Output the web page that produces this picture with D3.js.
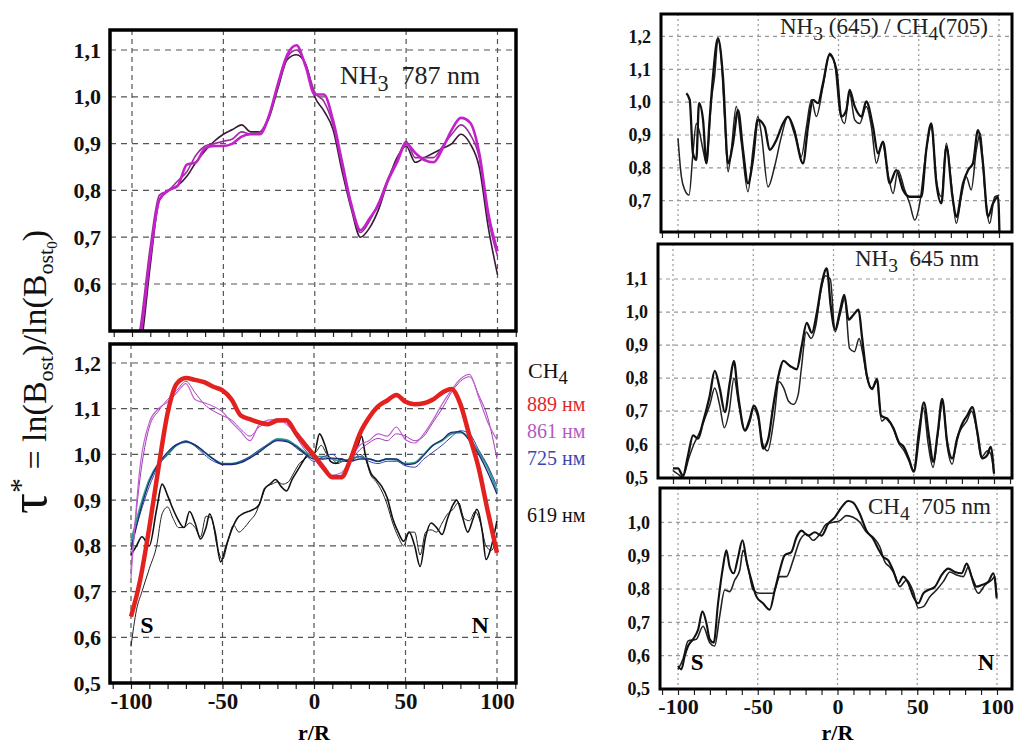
<!DOCTYPE html>
<html>
<head>
<meta charset="utf-8">
<script src="https://cdn.jsdelivr.net/npm/d3@7"></script>
<style>
  body { margin: 0; background: #fff; }
  svg { display: block; }
  text { font-family: "Liberation Serif", "Times New Roman", serif; }
</style>
</head>
<body>
<svg id="chart" width="1014" height="744"></svg>
<script>
// ---- data ----
// left column, every 5 units of r/R
const rLeft = [-100,-95,-90,-85,-80,-75,-70,-65,-60,-55,-50,-45,-40,-35,-30,-25,-20,-15,-10,-5,0,5,10,15,20,25,30,35,40,45,50,55,60,65,70,75,80,85,90,95,100];

// NH3 787 nm, three profiles
const nh3_787_a = [0.40,0.50,0.66,0.78,0.80,0.81,0.855,0.86,0.89,0.895,0.895,0.90,0.915,0.92,0.92,0.96,1.03,1.09,1.11,1.065,1.005,1.005,0.95,0.86,0.77,0.715,0.74,0.77,0.82,0.86,0.90,0.88,0.865,0.86,0.89,0.93,0.955,0.945,0.88,0.75,0.67];
const nh3_787_b = [0.40,0.52,0.68,0.79,0.80,0.82,0.84,0.875,0.895,0.90,0.905,0.91,0.925,0.92,0.925,0.96,1.025,1.085,1.10,1.07,1.01,0.99,0.94,0.85,0.765,0.71,0.735,0.775,0.825,0.865,0.905,0.87,0.87,0.87,0.895,0.92,0.94,0.92,0.87,0.74,0.66];
const nh3_787_c = [0.40,0.47,0.64,0.78,0.80,0.81,0.83,0.86,0.885,0.905,0.92,0.93,0.94,0.925,0.925,0.955,1.02,1.08,1.09,1.07,1.00,0.97,0.93,0.84,0.76,0.70,0.72,0.76,0.82,0.87,0.895,0.86,0.87,0.88,0.89,0.90,0.92,0.90,0.85,0.72,0.62];

// CH4 bands
const ch4_889 = [0.645,0.725,0.84,0.97,1.09,1.155,1.167,1.163,1.158,1.148,1.14,1.12,1.085,1.077,1.07,1.066,1.074,1.075,1.047,1.022,0.998,0.972,0.95,0.95,0.99,1.045,1.08,1.105,1.118,1.13,1.115,1.11,1.112,1.12,1.135,1.143,1.11,1.04,0.97,0.875,0.785];
const ch4_861_a = [0.73,0.975,1.07,1.10,1.115,1.135,1.155,1.12,1.113,1.105,1.093,1.07,1.05,1.03,1.065,1.075,1.077,1.066,1.045,1.015,0.995,0.97,0.955,0.96,0.99,1.02,1.03,1.045,1.04,1.06,1.032,1.025,1.045,1.075,1.11,1.14,1.165,1.175,1.125,1.07,1.032];
const ch4_861_b = [0.75,0.95,1.06,1.095,1.12,1.14,1.16,1.135,1.11,1.095,1.085,1.075,1.055,1.04,1.06,1.07,1.078,1.07,1.04,1.01,0.99,0.965,0.95,0.955,0.985,1.01,1.025,1.035,1.03,1.045,1.04,1.03,1.04,1.07,1.1,1.135,1.16,1.17,1.13,1.08,0.99];
const ch4_725_a = [0.79,0.875,0.94,0.98,1.005,1.022,1.028,1.021,1.006,0.99,0.978,0.978,0.982,0.992,1.005,1.02,1.03,1.028,1.018,1.002,0.99,0.99,0.992,0.99,0.985,0.99,0.99,0.985,0.99,0.99,0.978,0.98,0.998,1.02,1.032,1.048,1.05,1.03,1.0,0.96,0.913];
const ch4_725_b = [0.80,0.87,0.93,0.975,1.0,1.02,1.03,1.018,1.0,0.985,0.98,0.98,0.985,0.995,1.01,1.022,1.032,1.03,1.015,1.0,0.985,0.995,1.0,0.985,0.99,0.995,0.985,0.98,0.985,0.985,0.975,0.972,0.99,1.005,1.02,1.038,1.052,1.045,1.01,0.975,0.93];
const ch4_725_c = [0.81,0.885,0.945,0.98,1.0,1.02,1.027,1.02,1.005,0.99,0.98,0.98,0.985,0.995,1.008,1.022,1.034,1.032,1.02,1.005,0.995,0.995,0.99,0.985,0.99,0.995,0.99,0.985,0.99,0.988,0.98,0.982,1.0,1.02,1.03,1.045,1.048,1.035,1.005,0.97,0.92];

const r619_a = [-100,-97,-94,-90,-86,-83,-80,-77,-74,-71,-68,-65,-62,-59,-57,-54,-51,-48,-45,-42,-39,-36,-33,-30,-27,-24,-21,-18,-15,-12,-9,-6,-3,0,3,6,9,12,15,18,21,24,26,28,31,34,37,40,43,46,49,52,55,58,61,64,67,70,73,76,78,81,84,87,89,92,94,97,100];
const ch4_619_a = [0.78,0.80,0.82,0.80,0.88,0.935,0.91,0.88,0.855,0.84,0.875,0.85,0.815,0.84,0.87,0.83,0.765,0.80,0.835,0.86,0.87,0.875,0.88,0.89,0.925,0.935,0.945,0.93,0.92,0.945,0.965,0.985,1.0,1.0,1.045,1.02,0.985,0.98,0.99,0.985,0.995,1.02,1.04,1.0,0.96,0.945,0.93,0.905,0.86,0.83,0.81,0.83,0.80,0.755,0.82,0.85,0.84,0.825,0.86,0.89,0.90,0.865,0.83,0.86,0.88,0.83,0.77,0.80,0.855];
const r619_b = [-100,-97,-94,-90,-86,-83,-80,-77,-74,-71,-68,-65,-62,-59,-56,-53,-50,-47,-44,-41,-38,-35,-32,-29,-26,-23,-20,-17,-14,-11,-8,-5,-2,1,4,7,10,13,16,19,22,25,28,31,34,37,40,43,46,49,52,55,58,61,64,67,70,73,76,79,82,85,88,91,94,97,100];
const ch4_619_b = [0.58,0.66,0.70,0.75,0.80,0.87,0.885,0.86,0.84,0.84,0.85,0.84,0.82,0.865,0.86,0.80,0.77,0.81,0.845,0.83,0.84,0.855,0.87,0.90,0.93,0.935,0.94,0.935,0.94,0.96,0.98,0.99,1.0,1.005,1.02,1.0,0.99,0.98,0.985,0.985,0.99,1.0,0.99,0.955,0.94,0.92,0.89,0.85,0.82,0.80,0.83,0.83,0.78,0.83,0.835,0.83,0.85,0.87,0.88,0.895,0.86,0.855,0.875,0.85,0.80,0.79,0.83];

// right column: NH3(645)/CH4(705)
const rRatio_a = [-100,-97.9,-95.8,-93.1,-90.7,-88.6,-86.9,-84.4,-82.3,-79.2,-77.2,-75.1,-73,-70.9,-68.8,-66.8,-63.7,-60.5,-56.4,-53.3,-50.2,-48.1,-43.9,-39.8,-35.6,-31.5,-27.3,-23.2,-20,-16.9,-13.8,-9.7,-5.5,-2.4,0.7,3.8,6.9,10.1,13.2,17.3,20.5,23.6,27.3,30.8,34,37.1,41.2,44.3,47.5,50.6,54.7,57.8,61,64.1,67.2,70.3,73.4,76.5,79.6,82.7,85.9,88.4,91,94.2,97.3,100];
const ratio_a = [0.89,0.773,0.733,0.717,0.844,0.935,0.915,0.855,0.814,1.007,1.078,1.19,1.128,0.946,0.788,0.855,0.987,0.875,0.727,0.855,0.956,0.905,0.742,0.804,0.895,0.956,0.915,0.834,0.925,1.007,0.956,1.047,1.149,1.118,0.976,0.935,1.027,0.946,0.935,0.987,0.925,0.814,0.875,0.783,0.722,0.793,0.733,0.692,0.641,0.692,0.855,0.925,0.763,0.712,0.875,0.753,0.631,0.712,0.773,0.733,0.855,0.905,0.742,0.631,0.712,0.717];
const rRatio_b = [-94.8,-92.7,-90.7,-88.6,-86.9,-84.4,-82.3,-80.3,-78.2,-75.1,-72,-68.8,-65.7,-62.6,-59.5,-56.4,-53.3,-50.2,-46,-42.9,-38.7,-34.6,-31.5,-27.3,-22.1,-19,-15.9,-12.8,-9.7,-5.5,-1.3,1.8,4.9,6.9,10.1,14.3,17.3,21.5,24.6,27.7,31.9,36,40.2,44.3,48.5,51.6,54.7,57.8,61,64.1,67.2,71,73.4,77.6,80.7,83.8,86.9,90,93.1,96.3,99.4,100.4];
const ratio_b = [1.027,1.007,0.844,0.824,0.997,0.946,0.814,0.946,1.078,1.195,1.078,0.814,0.875,0.976,0.855,0.753,0.824,0.946,0.925,0.855,0.885,0.935,0.956,0.905,0.814,0.925,1.007,0.997,1.057,1.144,1.098,0.956,0.976,1.037,0.987,0.956,1.002,0.925,0.844,0.88,0.753,0.793,0.733,0.712,0.712,0.712,0.855,0.935,0.753,0.692,0.865,0.712,0.651,0.753,0.793,0.814,0.915,0.814,0.651,0.692,0.712,0.58];

// NH3 645 nm
const r645_a = [-100,-96.9,-93.8,-90.6,-87.5,-84.4,-81.3,-77.1,-74,-70.8,-67.7,-64.6,-62.1,-59.4,-55.2,-52.1,-49.6,-46.9,-43.8,-40.6,-37.5,-33.8,-31.3,-27.1,-22.9,-19.8,-16.7,-13.5,-10.4,-7.3,-4.2,-1.7,1,4.2,6.7,9.4,12.5,15.6,17.7,20.8,24,27.1,29.6,33.3,37.5,40.6,43.8,46.9,50,53.1,56.3,59.4,62.1,65,67.7,70.8,74,77.1,80.2,83.3,86.5,89.6,92.7,95.8,97.9,100];
const nh3_645_a = [0.527,0.527,0.505,0.567,0.627,0.617,0.667,0.747,0.822,0.767,0.697,0.787,0.852,0.747,0.642,0.677,0.717,0.687,0.587,0.617,0.717,0.817,0.852,0.837,0.827,0.897,0.967,0.937,0.997,1.087,1.132,1.017,0.947,1.007,1.052,0.977,0.992,1.007,0.927,0.807,0.767,0.797,0.687,0.677,0.647,0.607,0.592,0.557,0.517,0.617,0.727,0.627,0.547,0.637,0.737,0.607,0.557,0.617,0.662,0.687,0.712,0.637,0.557,0.567,0.592,0.512];
const r645_b = [-100,-97,-94,-90,-87,-84,-80,-77,-74,-71,-68,-65,-62,-59,-55,-52,-50,-47,-44,-41,-37,-34,-31,-28,-25,-22,-20,-17,-14,-11,-8,-5,-2,1,4,7,10,13,16,18,21,24,27,30,33,37,41,44,47,50,53,56,59,62,65,68,71,74,77,80,83,86,89,92,96,98,100];
const nh3_645_b = [0.52,0.51,0.50,0.56,0.60,0.63,0.68,0.72,0.77,0.72,0.65,0.70,0.80,0.72,0.64,0.67,0.71,0.68,0.60,0.58,0.68,0.79,0.77,0.73,0.72,0.75,0.83,0.94,0.92,0.96,1.06,1.11,1.10,0.94,0.99,1.04,0.89,0.88,0.92,0.88,0.80,0.77,0.79,0.67,0.68,0.65,0.60,0.58,0.55,0.52,0.64,0.71,0.60,0.53,0.63,0.73,0.59,0.54,0.62,0.65,0.67,0.70,0.65,0.56,0.58,0.57,0.51];

// CH4 705 nm
const r705_a = [-100,-97.9,-95.8,-93.7,-90.6,-87.4,-84.7,-82.2,-80.1,-77.6,-74.9,-71.8,-69.7,-67.6,-65.1,-62.3,-59.6,-56.7,-54,-50.8,-46.7,-42.5,-39.3,-36.2,-33.1,-28.9,-25.7,-22.6,-18.4,-14.2,-10,-5.9,-1.7,2.5,6.7,9.8,14,18.2,22.4,25.5,28.7,31.8,34.9,38.1,41.2,44.4,47.5,50.6,53.8,56.9,61.1,65.3,69.5,73.6,77.8,81,84.1,87.2,90.4,94.6,97.7,99.8];
const ch4_705_a = [0.569,0.559,0.599,0.629,0.649,0.678,0.733,0.698,0.649,0.639,0.757,0.866,0.916,0.866,0.847,0.896,0.946,0.876,0.827,0.777,0.757,0.738,0.797,0.856,0.901,0.911,0.955,0.975,0.96,0.97,0.96,0.995,1.015,1.045,1.064,1.059,1.025,0.975,0.95,0.921,0.896,0.886,0.856,0.817,0.837,0.817,0.777,0.757,0.787,0.797,0.807,0.842,0.861,0.851,0.847,0.876,0.837,0.807,0.812,0.822,0.847,0.772];
const r705_b = [-100,-96.9,-93.7,-88.5,-84.3,-80.1,-77,-73.9,-70.7,-67.6,-64.4,-61.3,-59.2,-56.1,-52.9,-48.7,-44.6,-40.4,-36.2,-32,-27.8,-23.6,-19.5,-15.3,-11.1,-6.9,-2.7,1.5,5.6,9.8,14,18.2,22.4,26.6,29.7,32.8,36,39.1,43.3,47.5,50.6,53.8,57.9,62.1,66.3,70.5,74.7,78.9,82,85.1,88.3,92.5,96.7,98.7,99.8];
const ch4_705_b = [0.559,0.589,0.644,0.649,0.688,0.639,0.629,0.718,0.797,0.792,0.827,0.856,0.916,0.866,0.797,0.787,0.787,0.787,0.837,0.837,0.886,0.946,0.965,0.946,0.965,0.995,1.0,1.005,1.02,1.015,1.0,0.97,0.955,0.926,0.881,0.866,0.842,0.807,0.827,0.792,0.743,0.747,0.777,0.797,0.822,0.851,0.842,0.837,0.866,0.817,0.787,0.812,0.827,0.837,0.777];

const xLabelTicks = [-100, -50, 0, 50, 100];
const xGridTicks = [-100, -50, 0, 50, 100];
const xMinorTicks = [-110,-100,-90,-80,-70,-60,-50,-40,-30,-20,-10,0,10,20,30,40,50,60,70,80,90,100,110];
const ticksTL = [0.6, 0.7, 0.8, 0.9, 1.0, 1.1];
const ticksBL = [0.5, 0.6, 0.7, 0.8, 0.9, 1.0, 1.1, 1.2];
const ticksTR = [0.7, 0.8, 0.9, 1.0, 1.1, 1.2];
const ticksMR = [0.5, 0.6, 0.7, 0.8, 0.9, 1.0, 1.1];
const ticksBR = [0.5, 0.6, 0.7, 0.8, 0.9, 1.0];

const legend = [
  { label: "889 нм", color: "#e0282a", y: 411 },
  { label: "861 нм", color: "#b35ac4", y: 438 },
  { label: "725 нм", color: "#3848b0", y: 465 },
  { label: "619 нм", color: "#111", y: 522 }
];

const zip = (xs, ys) => xs.map((v, i) => [v, ys[i]]);
const fmt = v => d3.format(".1f")(v).replace(".", ",");
const gap = "\u00a0\u00a0";

const svg = d3.select("#chart");
const defs = svg.append("defs");

function drawPanel(p) {
  const [bx0, by0, bx1, by1] = p.box;
  const x = d3.scaleLinear().domain([-100, 100]).range(p.xr);
  const y = d3.scaleLinear().domain(p.yd).range(p.yr);
  const g = svg.append("g");

  defs.append("clipPath").attr("id", "clip-" + p.id)
    .append("rect").attr("x", bx0).attr("y", by0)
    .attr("width", bx1 - bx0).attr("height", by1 - by0);

  // grid
  g.selectAll(".hg").data(p.yTicks.filter(v => y(v) < by1 - 3)).join("line")
    .attr("x1", bx0).attr("x2", bx1)
    .attr("y1", d => y(d)).attr("y2", d => y(d))
    .attr("stroke", p.gridColor).attr("stroke-width", 1.2)
    .attr("stroke-dasharray", p.hDash);
  g.selectAll(".vg").data(xGridTicks).join("line")
    .attr("x1", d => x(d)).attr("x2", d => x(d))
    .attr("y1", by0).attr("y2", by1)
    .attr("stroke", p.gridColor).attr("stroke-width", 1.2)
    .attr("stroke-dasharray", p.vDash);

  // curves
  const line = d3.line().x(d => x(d[0])).y(d => y(d[1])).curve(d3.curveMonotoneX);
  const lg = g.append("g").attr("clip-path", "url(#clip-" + p.id + ")");
  p.series.forEach(s => {
    lg.append("path").datum(zip(s.x, s.y))
      .attr("d", line).attr("fill", "none")
      .attr("stroke", s.color).attr("stroke-width", s.w)
      .attr("stroke-linejoin", "round");
  });

  // minor ticks on the bottom edge
  const tb = g.append("g").attr("transform", "translate(0," + by1 + ")")
    .call(d3.axisBottom(x).tickValues(xMinorTicks.filter(v => x(v) > bx0 && x(v) < bx1))
      .tickSize(6).tickFormat(""));
  tb.select(".domain").remove();
  tb.selectAll("line").attr("stroke", "#222").attr("stroke-width", 1.2);

  // frame
  g.append("rect").attr("x", bx0).attr("y", by0)
    .attr("width", bx1 - bx0).attr("height", by1 - by0)
    .attr("fill", "none").attr("stroke", "#000").attr("stroke-width", p.frame);

  // y labels
  const ya = g.append("g").attr("transform", "translate(" + (bx0 - p.labelGap) + ",0)")
    .call(d3.axisLeft(y).tickValues(p.yTicks).tickSize(0).tickPadding(0).tickFormat(fmt));
  ya.select(".domain").remove();
  ya.selectAll("text").attr("font-family", "Liberation Serif").attr("font-weight", "bold")
    .attr("font-size", p.labelSize).attr("fill", "#111");

  if (p.xLabels) {
    const xa = g.append("g").attr("transform", "translate(0," + by1 + ")")
      .call(d3.axisBottom(x).tickValues(xLabelTicks).tickSize(0).tickPadding(p.xPad).tickFormat(d => String(d)));
    xa.select(".domain").remove();
    xa.selectAll("text").attr("font-family", "Liberation Serif").attr("font-weight", "bold")
      .attr("font-size", p.xSize).attr("fill", "#111").attr("dy", "0.71em");
    g.append("text").attr("x", x(0)).attr("y", 740).attr("text-anchor", "middle")
      .attr("font-weight", "bold").attr("font-size", 22).text("r/R");
  }
  return { x, y, g };
}

function chem(sel, parts, size) {
  // parts: [text, isSub]
  let shifted = false;
  parts.forEach(([t, sub]) => {
    const ts = sel.append("tspan").text(t);
    if (sub && !shifted) { ts.attr("dy", size * 0.28).attr("font-size", size * 0.85); shifted = true; }
    else if (!sub && shifted) { ts.attr("dy", -size * 0.28); shifted = false; }
  });
}

// top-left: NH3 787 nm
const tl = drawPanel({
  id: "tl", box: [110, 30, 516, 331], xr: [132, 497.5], yd: [0.6, 1.1], yr: [284, 50],
  yTicks: ticksTL, gridColor: "#555", hDash: "6,5", vDash: "5,4", frame: 3.5,
  labelSize: 22, labelGap: 9, xLabels: false,
  series: [
    { x: rLeft, y: nh3_787_c, color: "#3a1838", w: 1.6 },
    { x: rLeft, y: nh3_787_b, color: "#9a2c9c", w: 1.6 },
    { x: rLeft, y: nh3_787_a, color: "#c322c8", w: 2.6 }
  ]
});
chem(tl.g.append("text").attr("x", 340).attr("y", 84).attr("font-size", 26).attr("fill", "#222"),
  [["NH"], ["3", true], [gap + "787 nm"]], 26);

// bottom-left: CH4 bands
const bl = drawPanel({
  id: "bl", box: [110, 344, 516, 683], xr: [131, 497], yd: [0.5, 1.2], yr: [683, 363],
  yTicks: ticksBL, gridColor: "#555", hDash: "6,5", vDash: "5,4", frame: 3.5,
  labelSize: 22, labelGap: 9, xLabels: true, xPad: 10, xSize: 23,
  series: [
    { x: r619_b, y: ch4_619_b, color: "#222", w: 1.0 },
    { x: r619_a, y: ch4_619_a, color: "#111", w: 1.6 },
    { x: rLeft, y: ch4_725_c, color: "#2fa08a", w: 1.8 },
    { x: rLeft, y: ch4_725_b, color: "#3646a8", w: 1.0 },
    { x: rLeft, y: ch4_725_a, color: "#1e2878", w: 1.3 },
    { x: rLeft, y: ch4_861_b, color: "#9c3cb4", w: 1.0 },
    { x: rLeft, y: ch4_861_a, color: "#c060d0", w: 1.2 },
    { x: rLeft, y: ch4_889, color: "#e3221f", w: 4.5 }
  ]
});
bl.g.append("text").attr("x", bl.x(-95)).attr("y", 633).attr("font-weight", "bold").attr("font-size", 24).text("S");
bl.g.append("text").attr("x", bl.x(86)).attr("y", 633).attr("font-weight", "bold").attr("font-size", 24).text("N");

// legend for CH4 bands
chem(svg.append("text").attr("x", 528).attr("y", 378).attr("font-size", 22).attr("fill", "#111"),
  [["CH"], ["4", true]], 22);
svg.selectAll(".leg").data(legend).join("text")
  .attr("x", 527).attr("y", d => d.y).attr("font-size", 20)
  .attr("fill", d => d.color).text(d => d.label);

// top-right: ratio
const tr = drawPanel({
  id: "tr", box: [661, 14, 1012, 232], xr: [678, 999], yd: [0.7, 1.1], yr: [200.7, 69.3],
  yTicks: ticksTR, gridColor: "#999", hDash: "4,4", vDash: "2,3", frame: 3,
  labelSize: 18, labelGap: 10, xLabels: false,
  series: [
    { x: rRatio_a, y: ratio_a, color: "#222", w: 1.5 },
    { x: rRatio_b, y: ratio_b, color: "#111", w: 2.3 }
  ]
});
chem(tr.g.append("text").attr("x", 780).attr("y", 34).attr("font-size", 23).attr("fill", "#222"),
  [["NH"], ["3", true], [" (645) / CH"], ["4", true], ["(705)"]], 23);

// middle-right: NH3 645 nm
const mr = drawPanel({
  id: "mr", box: [658, 244, 1012, 478], xr: [673, 994], yd: [0.5, 1.1], yr: [477.3, 279],
  yTicks: ticksMR, gridColor: "#999", hDash: "4,4", vDash: "2,3", frame: 3,
  labelSize: 18, labelGap: 10, xLabels: false,
  series: [
    { x: r645_b, y: nh3_645_b, color: "#222", w: 1.5 },
    { x: r645_a, y: nh3_645_a, color: "#111", w: 2.3 }
  ]
});
chem(mr.g.append("text").attr("x", 855).attr("y", 266).attr("font-size", 23).attr("fill", "#222"),
  [["NH"], ["3", true], [gap + "645 nm"]], 23);

// bottom-right: CH4 705 nm
const br = drawPanel({
  id: "br", box: [660, 488, 1012, 689], xr: [678, 997], yd: [0.5, 1.0], yr: [689, 522.3],
  yTicks: ticksBR, gridColor: "#999", hDash: "4,4", vDash: "2,3", frame: 3,
  labelSize: 18, labelGap: 10, xLabels: true, xPad: 9, xSize: 22,
  series: [
    { x: r705_b, y: ch4_705_b, color: "#222", w: 1.6 },
    { x: r705_a, y: ch4_705_a, color: "#111", w: 2.1 }
  ]
});
chem(br.g.append("text").attr("x", 868).attr("y", 514).attr("font-size", 23).attr("fill", "#222"),
  [["CH"], ["4", true], [gap + "705 nm"]], 23);
br.g.append("text").attr("x", br.x(-92)).attr("y", 670).attr("font-weight", "bold").attr("font-size", 23).text("S");
br.g.append("text").attr("x", br.x(88)).attr("y", 670).attr("font-weight", "bold").attr("font-size", 23).text("N");

// shared y title
const yt = svg.append("text").attr("transform", "translate(46,372) rotate(-90)")
  .attr("text-anchor", "middle").attr("font-size", 34).attr("fill", "#111");
yt.append("tspan").attr("font-size", 52).text("τ");
yt.append("tspan").attr("font-size", 30).attr("dy", -16).text("*");
yt.append("tspan").attr("dy", 16).text(" = ln(B");
yt.append("tspan").attr("font-size", 22).attr("dy", 7).text("ost");
yt.append("tspan").attr("dy", -7).text(")/ln(B");
yt.append("tspan").attr("font-size", 22).attr("dy", 7).text("ost");
yt.append("tspan").attr("font-size", 15).attr("dy", 4).text("0");
yt.append("tspan").attr("dy", -11).text(")");
</script>
</body>
</html>
